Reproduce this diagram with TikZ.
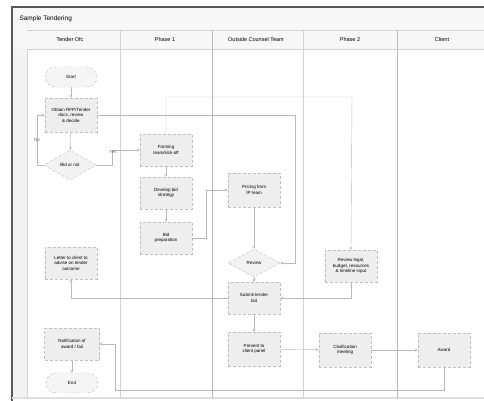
\documentclass[tikz,border=0pt]{standalone}
\usepackage{fontspec}
\setmainfont{Liberation Sans}
\usetikzlibrary{shapes.geometric}
\tikzset{
  stepbox/.style={draw=gray!50, densely dashed, fill=gray!13, minimum width=52pt, minimum height=32pt, inner sep=1pt, align=center, font=\fontsize{4.5}{5.5}\selectfont},
  termbox/.style={draw=gray!50, densely dashed, fill=gray!8, rounded corners=10pt, minimum width=52pt, minimum height=20pt, font=\fontsize{4.5}{5.5}\selectfont},
  choice/.style={draw=gray!50, densely dashed, fill=gray!10, diamond, aspect=1.8, minimum width=52pt, minimum height=30pt, inner sep=0pt, font=\fontsize{4.5}{5.5}\selectfont},
  flow/.style={draw=gray!55, line width=0.4pt, ->, >=stealth},
  lane/.style={draw=gray!35, line width=0.5pt},
  tag/.style={font=\fontsize{4.5}{5.5}\selectfont, text=gray!80!black}
}
\begin{document}
\begin{tikzpicture}[x=1pt,y=-1pt]
  \useasboundingbox (0,0) rectangle (484,401);
  % pool and lanes
  \fill[gray!6] (12,7) rectangle (484,49);
  \fill[gray!10] (12,49) rectangle (27,398);
  \draw[gray!70!black, line width=1.2pt] (12,401) -- (12,7) -- (484,7);
  \draw[lane] (27,30) -- (484,30); \draw[lane] (27,49) -- (484,49);
  \draw[lane] (27,49) -- (27,398);
  \draw[gray!25, line width=2pt] (12,398) -- (484,398);
  \draw[lane] (120,30) -- (120,398);
  \draw[gray!55, line width=0.8pt] (212,30) -- (212,398);
  \draw[lane] (303,30) -- (303,398);
  \draw[gray!55, line width=0.8pt] (397,30) -- (397,398);
  \node[anchor=west, font=\fontsize{6.5}{7}\selectfont] (title) at (16,19) {Sample Tendering};
  \node[font=\fontsize{5.5}{6}\selectfont] (h1) at (70,40) {Tender Ofc};
  \node[font=\fontsize{5.5}{6}\selectfont] (h2) at (165,40) {Phase 1};
  \node[font=\fontsize{5.5}{6}\selectfont] (h3) at (256,40) {Outside Counsel Team};
  \node[font=\fontsize{5.5}{6}\selectfont] (h4) at (350,40) {Phase 2};
  \node[font=\fontsize{5.5}{6}\selectfont] (h5) at (442,40) {Client};
  % steps
  \node[termbox] (start) at (71,77) {Start};
  \node[stepbox, minimum height=34pt] (obtain) at (71,115) {Obtain RFP/Tender\\docs, review\\\& decide};
  \node[choice] (dec) at (70,165) {Bid or not};
  \node[stepbox] (kick) at (166,150) {Forming\\team/kick-off};
  \node[stepbox] (dev) at (166,193) {Develop bid\\strategy};
  \node[stepbox] (prep) at (166,238) {Bid\\preparation};
  \node[stepbox, minimum height=34pt] (price) at (254,190) {Pricing from\\IP team};
  \node[choice, minimum height=28pt] (rev) at (254,263) {Review};
  \node[stepbox] (fin) at (254,298) {Submit tender\\bid};
  \node[stepbox, minimum height=34pt] (sub) at (254,349) {Present to\\client panel};
  \node[stepbox] (legal) at (351,266) {Review legal,\\budget, resources\\\& timeline input};
  \node[stepbox, minimum height=34pt] (clar) at (345,350) {Clarification\\meeting};
  \node[stepbox, minimum height=34pt] (award) at (444,350) {Award};
  \node[stepbox] (letter) at (71,263) {Letter to client to\\advise on tender\\outcome};
  \node[stepbox, minimum width=55pt] (notif) at (72,344) {Notification of\\award / fail};
  \node[termbox] (end) at (72,383) {End};
  \coordinate (top) at (352,97);
  \coordinate (loop) at (115,390);
  % connectors
  \draw[flow] (start) to (obtain);
  \draw[flow] (obtain) to (dec);
  \draw[flow] (dec.west) -- (37,165) |- (obtain.west);
  \node[tag] (no) at (37,140) {No};
  \draw[flow] (dec.east) -- (112,165) |- (kick.west);
  \node[tag] (yes) at (113,152) {Yes};
  \draw[flow] (kick) to (dev);
  \draw[flow] (dev) to (prep);
  \draw[flow] (prep.east) -- (206,238) |- (price.west);
  \draw[flow] (kick.north) |- (top) -- (legal.north);
  \draw[flow] (obtain.east) -| (295,263) -- (rev.east);
  \draw[flow] (price) to (rev);
  \draw[flow] (rev) to (fin);
  \draw[flow] (legal.south) |- (fin.east);
  \draw[flow] (fin.west) -| (letter.south);
  \draw[flow] (fin) to (sub);
  \draw[flow] (sub) to (clar);
  \draw[flow] (clar) to (award);
  \draw[flow] (award.south) |- (loop) |- (notif.east);
  \draw[flow] (notif) to (end);
\end{tikzpicture}
\end{document}
